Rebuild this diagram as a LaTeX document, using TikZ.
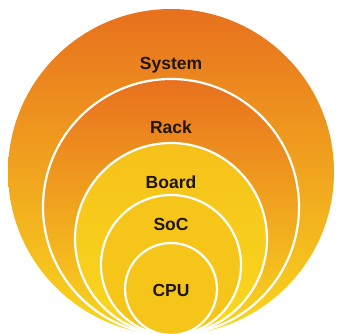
\documentclass[tikz,border=0pt]{standalone}
\usepackage{fontspec}
\setmainfont{Liberation Sans}
\definecolor{topOrange}{HTML}{E8701E}
\definecolor{midOrange}{HTML}{F3AA1D}
\definecolor{lowYellow}{HTML}{F9D81E}
\definecolor{plainYellow}{HTML}{F6C519}
\definecolor{labelInk}{HTML}{1E160F}
\tikzset{
  ring/.style={draw=white,line width=2.2pt},
  level/.style={font=\fontsize{17.5}{20}\selectfont\bfseries,text=labelInk}
}
\begin{document}
\begin{tikzpicture}[x=1pt,y=1pt]
  \useasboundingbox (0,0) rectangle (341,333);
  \clip (0,0) rectangle (341,333);
  % outer system disc
  \shade[top color=topOrange,middle color=midOrange,bottom color=lowYellow]
    (171,161) circle[radius=163pt];
  % rack disc
  \shade[ring,top color=topOrange,middle color=midOrange,bottom color=lowYellow]
    (171,126) circle[radius=128pt];
  % board, soc and cpu discs
  \shade[ring,top color=plainYellow!85!midOrange,bottom color=lowYellow]
    (171,94) circle[radius=96pt];
  \filldraw[ring,fill=plainYellow] (171,68) circle[radius=70pt];
  \filldraw[ring,fill=plainYellow] (171,44) circle[radius=46pt];
  % labels
  \node[level] (sys)   at (171,268) {System};
  \node[level] (rack)  at (171,206) {Rack};
  \node[level] (board) at (171,151) {Board};
  \node[level] (soc)   at (171,109) {SoC};
  \node[level] (cpu)   at (171,43)  {CPU};
\end{tikzpicture}
\end{document}
